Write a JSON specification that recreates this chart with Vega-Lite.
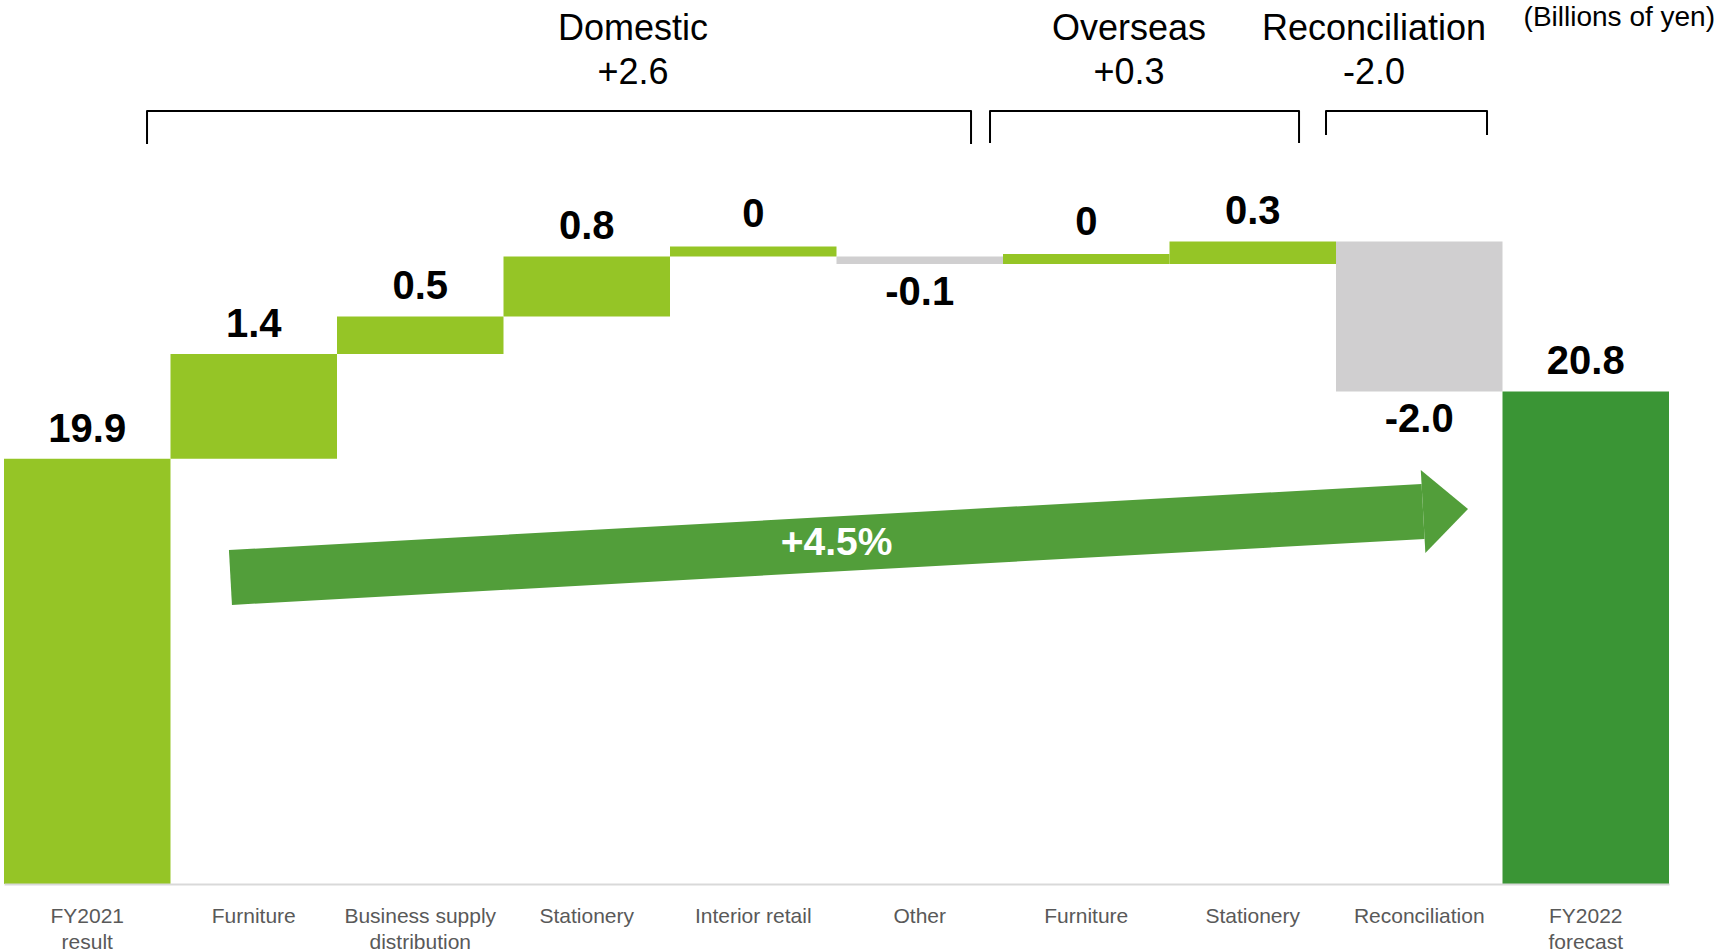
{
  "$schema": "https://vega.github.io/schema/vega-lite/v6.json",
  "description": "Operating income bridge from FY2021 result to FY2022 forecast (billions of yen).",
  "width": 1665,
  "height": 884,
  "autosize": {"type": "none"},
  "padding": {"left": 4, "top": 0, "right": 50, "bottom": 68},
  "background": "white",
  "config": {"view": {"stroke": null}, "text": {"font": "Liberation Sans"}},
  "datasets": {
    "steps": [
      {"step": "FY2021\nresult", "kind": "result", "amount": 19.9, "start": 0, "end": 19.9, "label": "19.9"},
      {"step": "Domestic: Furniture", "kind": "increase", "amount": 1.4, "start": 19.9, "end": 21.3, "label": "1.4"},
      {"step": "Domestic: Business supply\ndistribution", "kind": "increase", "amount": 0.5, "start": 21.3, "end": 21.8, "label": "0.5"},
      {"step": "Domestic: Stationery", "kind": "increase", "amount": 0.8, "start": 21.8, "end": 22.6, "label": "0.8"},
      {"step": "Domestic: Interior retail", "kind": "increase", "amount": 0, "start": 22.6, "end": 22.6, "label": "0"},
      {"step": "Domestic: Other", "kind": "decrease", "amount": -0.1, "start": 22.6, "end": 22.5, "label": "-0.1"},
      {"step": "Overseas: Furniture", "kind": "increase", "amount": 0, "start": 22.5, "end": 22.5, "label": "0"},
      {"step": "Overseas: Stationery", "kind": "increase", "amount": 0.3, "start": 22.5, "end": 22.8, "label": "0.3"},
      {"step": "Reconciliation", "kind": "decrease", "amount": -2.0, "start": 22.8, "end": 20.8, "label": "-2.0"},
      {"step": "FY2022\nforecast", "kind": "forecast", "amount": 20.8, "start": 0, "end": 20.8, "label": "20.8"}
    ],
    "groups": [
      {"group": "Domestic", "change": "+2.6", "slot": 3.778},
      {"group": "Overseas", "change": "+0.3", "slot": 6.757},
      {"group": "Reconciliation", "change": "-2.0", "slot": 8.228}
    ],
    "brackets": [
      {"group": "Domestic", "seq": 1, "slot": 0.859, "level": 24.099},
      {"group": "Domestic", "seq": 2, "slot": 0.859, "level": 24.54},
      {"group": "Domestic", "seq": 3, "slot": 5.808, "level": 24.54},
      {"group": "Domestic", "seq": 4, "slot": 5.808, "level": 24.099},
      {"group": "Overseas", "seq": 1, "slot": 5.922, "level": 24.113},
      {"group": "Overseas", "seq": 2, "slot": 5.922, "level": 24.54},
      {"group": "Overseas", "seq": 3, "slot": 7.778, "level": 24.54},
      {"group": "Overseas", "seq": 4, "slot": 7.778, "level": 24.113},
      {"group": "Reconciliation", "seq": 1, "slot": 7.94, "level": 24.22},
      {"group": "Reconciliation", "seq": 2, "slot": 7.94, "level": 24.54},
      {"group": "Reconciliation", "seq": 3, "slot": 8.907, "level": 24.54},
      {"group": "Reconciliation", "seq": 4, "slot": 8.907, "level": 24.22}
    ],
    "growth": [
      {"label": "+4.5%", "fromSlot": 1.36, "fromLevel": 18.318, "toSlot": 8.523, "toLevel": 19.198, "labelSlot": 5.0, "labelLevel": 18.774}
    ],
    "notes": [
      {"unit": "(Billions of yen)"}
    ]
  },
  "layer": [
    {
      "data": {"name": "steps"},
      "layer": [
        {
          "mark": {"type": "bar"},
          "encoding": {
            "x": {
              "field": "step",
              "type": "nominal",
              "sort": null,
              "scale": {
                "domain": [
                  "FY2021\nresult",
                  "Domestic: Furniture",
                  "Domestic: Business supply\ndistribution",
                  "Domestic: Stationery",
                  "Domestic: Interior retail",
                  "Domestic: Other",
                  "Overseas: Furniture",
                  "Overseas: Stationery",
                  "Reconciliation",
                  "FY2022\nforecast"
                ],
                "paddingInner": 0,
                "paddingOuter": 0
              },
              "axis": {
                "title": null,
                "domain": true,
                "domainColor": "#D9D9D9",
                "domainWidth": 2,
                "ticks": false,
                "tickSize": 0,
                "labelPadding": 21,
                "labelAngle": 0,
                "labelFont": "Liberation Sans",
                "labelFontSize": 21,
                "labelColor": "#595959",
                "labelLineHeight": 26,
                "labelOverlap": false,
                "labelLimit": 0,
                "labelExpr": "split(replace(datum.value, regexp('^(Domestic|Overseas): '), ''), '\\n')",
                "zindex": 1
              }
            },
            "y": {
              "field": "start",
              "type": "quantitative",
              "scale": {"domain": [14.23, 26.02], "nice": false, "zero": false, "clamp": true},
              "axis": null
            },
            "y2": {"field": "end"},
            "color": {
              "field": "kind",
              "type": "nominal",
              "scale": {
                "domain": ["result", "increase", "decrease", "forecast"],
                "range": ["#95C526", "#95C526", "#D0CFD0", "#3A9535"]
              },
              "legend": null
            }
          }
        },
        {
          "transform": [{"filter": "datum.amount == 0"}],
          "mark": {"type": "tick", "thickness": 10, "size": 166.5, "yOffset": -5, "opacity": 1},
          "encoding": {
            "x": {"field": "step", "type": "nominal"},
            "y": {"field": "end", "type": "quantitative"},
            "color": {"field": "kind", "type": "nominal", "legend": null}
          }
        },
        {
          "transform": [{"filter": "datum.amount > 0"}],
          "mark": {"type": "text", "fontSize": 40, "fontWeight": "bold", "color": "black", "baseline": "alphabetic", "dy": -17},
          "encoding": {
            "x": {"field": "step", "type": "nominal"},
            "y": {"field": "end", "type": "quantitative"},
            "text": {"field": "label"}
          }
        },
        {
          "transform": [{"filter": "datum.amount == 0"}],
          "mark": {"type": "text", "fontSize": 40, "fontWeight": "bold", "color": "black", "baseline": "alphabetic", "dy": -29},
          "encoding": {
            "x": {"field": "step", "type": "nominal"},
            "y": {"field": "end", "type": "quantitative"},
            "text": {"field": "label"}
          }
        },
        {
          "transform": [{"filter": "datum.amount < 0"}],
          "mark": {"type": "text", "fontSize": 40, "fontWeight": "bold", "color": "black", "baseline": "top", "dy": 9},
          "encoding": {
            "x": {"field": "step", "type": "nominal"},
            "y": {"field": "end", "type": "quantitative"},
            "text": {"field": "label"}
          }
        }
      ]
    },
    {
      "layer": [
        {
          "data": {"name": "brackets"},
          "mark": {"type": "line", "color": "black", "strokeWidth": 2, "strokeJoin": "round"},
          "encoding": {
            "x": {"field": "slot", "type": "quantitative", "scale": {"domain": [0, 10], "nice": false, "zero": false}, "axis": null},
            "y": {"field": "level", "type": "quantitative"},
            "detail": {"field": "group"},
            "order": {"field": "seq"}
          }
        },
        {
          "data": {"name": "groups"},
          "mark": {"type": "text", "fontSize": 36, "color": "black", "align": "center", "baseline": "middle"},
          "encoding": {
            "x": {"field": "slot", "type": "quantitative", "scale": {"domain": [0, 10], "nice": false, "zero": false}, "axis": null},
            "y": {"datum": 25.632},
            "text": {"field": "group"}
          }
        },
        {
          "data": {"name": "groups"},
          "mark": {"type": "text", "fontSize": 36, "color": "black", "align": "center", "baseline": "middle"},
          "encoding": {
            "x": {"field": "slot", "type": "quantitative", "scale": {"domain": [0, 10], "nice": false, "zero": false}, "axis": null},
            "y": {"datum": 25.048},
            "text": {"field": "change"}
          }
        },
        {
          "data": {"name": "growth"},
          "mark": {"type": "rule", "color": "#529E3A", "strokeWidth": 55, "strokeCap": "butt"},
          "encoding": {
            "x": {"field": "fromSlot", "type": "quantitative", "scale": {"domain": [0, 10], "nice": false, "zero": false}, "axis": null},
            "x2": {"field": "toSlot"},
            "y": {"field": "fromLevel", "type": "quantitative"},
            "y2": {"field": "toLevel"}
          }
        },
        {
          "data": {"name": "growth"},
          "mark": {"type": "point", "shape": "M 0 -1 L 1.084 0 L 0 1 Z", "size": 6889, "filled": true, "opacity": 1, "color": "#529E3A", "strokeWidth": 0, "angle": -3.17},
          "encoding": {
            "x": {"field": "toSlot", "type": "quantitative", "scale": {"domain": [0, 10], "nice": false, "zero": false}, "axis": null},
            "y": {"field": "toLevel", "type": "quantitative"}
          }
        },
        {
          "data": {"name": "growth"},
          "mark": {"type": "text", "fontSize": 39, "fontWeight": "bold", "color": "white", "align": "center", "baseline": "middle"},
          "encoding": {
            "x": {"field": "labelSlot", "type": "quantitative", "scale": {"domain": [0, 10], "nice": false, "zero": false}, "axis": null},
            "y": {"field": "labelLevel", "type": "quantitative"},
            "text": {"field": "label"}
          }
        },
        {
          "data": {"name": "notes"},
          "mark": {"type": "text", "fontSize": 28, "color": "black", "align": "right", "baseline": "middle", "dx": 46},
          "encoding": {
            "x": {"datum": 10, "type": "quantitative", "scale": {"domain": [0, 10], "nice": false, "zero": false}, "axis": null},
            "y": {"datum": 25.779},
            "text": {"field": "unit"}
          }
        }
      ]
    }
  ],
  "resolve": {"scale": {"x": "independent"}}
}
